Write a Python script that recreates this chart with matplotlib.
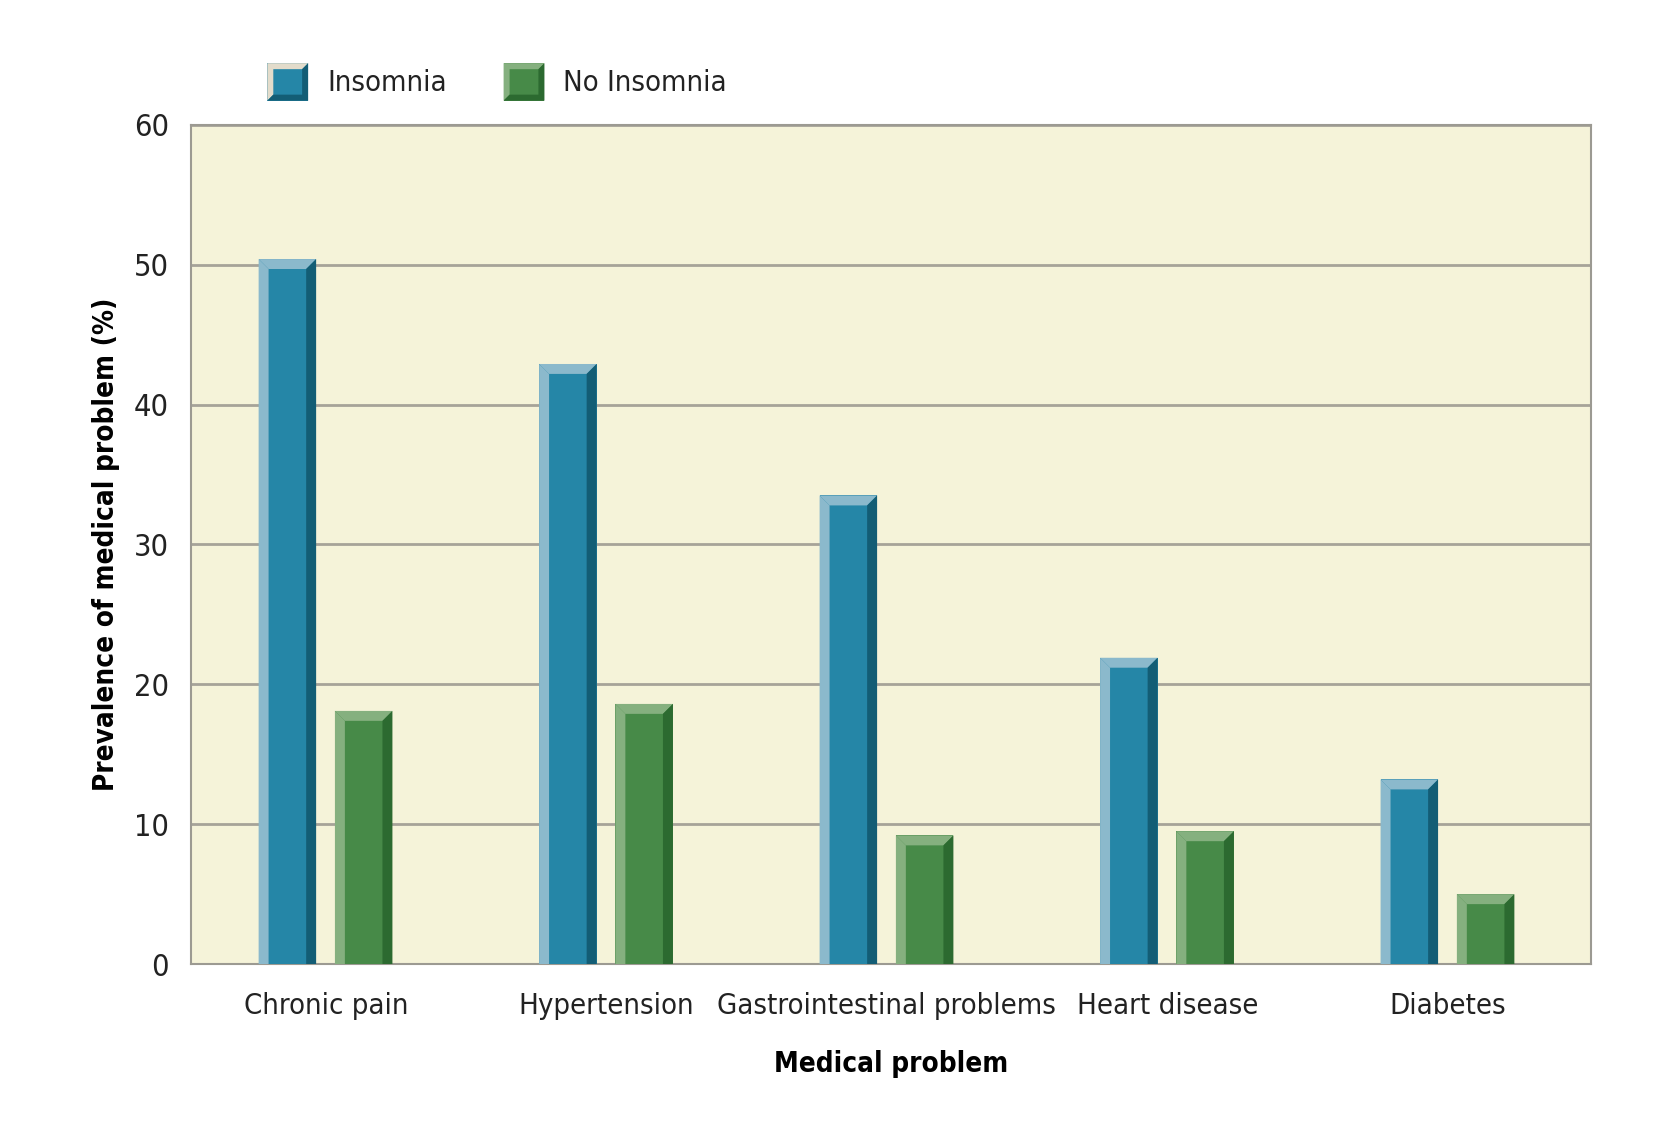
import numpy as np
import matplotlib
matplotlib.use("Agg")
import matplotlib.pyplot as plt
from matplotlib.patches import Polygon
from matplotlib.legend_handler import HandlerBase
from matplotlib import font_manager

# data
categories = ['Chronic pain', 'Hypertension', 'Gastrointestinal problems',
              'Heart disease', 'Diabetes']
insomnia = [50.4, 42.9, 33.5, 21.9, 13.2]
no_insomnia = [18.1, 18.6, 9.2, 9.5, 5.0]
yticks = [0, 10, 20, 30, 40, 50, 60]

# pick a narrow font if one is installed
fonts = font_manager.fontManager.ttflist
names = {f.name for f in fonts}
if 'Liberation Sans Narrow' in names:
    plt.rcParams['font.family'] = ['Liberation Sans Narrow', 'DejaVu Sans']
elif any(f.name == 'DejaVu Sans' and f.stretch == 'condensed' for f in fonts):
    plt.rcParams['font.family'] = ['DejaVu Sans']
    plt.rcParams['font.stretch'] = 'condensed'
else:
    plt.rcParams['font.family'] = ['Open Sans', 'DejaVu Sans']

blue = ('#2586a7', '#8bb9cc', '#135d75')
green = ('#478a48', '#85b07f', '#2c6a30')

fig = plt.figure(figsize=(16.74, 11.22), dpi=100)
ax = fig.add_axes([0.1142, 0.1407, 0.8361, 0.7481])
ax.set_facecolor('#f5f3d9')
ax.set_xlim(-0.48, 4.51)
ax.set_ylim(0, 60)

# bevel size in data units (~10 px)
dx, dy = 0.0355, 0.71


def bevel_bar(x, w, h, cols):
    face, light, dark = cols
    ax.bar(x, h, w, color=face, align='edge', zorder=3, linewidth=0)
    ax.add_patch(Polygon([(x, 0), (x, h), (x + dx, h - dy), (x + dx, 0)],
                         closed=True, color=light, lw=0, zorder=4))
    ax.add_patch(Polygon([(x, h), (x + w, h), (x + w - dx, h - dy), (x + dx, h - dy)],
                         closed=True, color=light, lw=0, zorder=4))
    ax.add_patch(Polygon([(x + w, 0), (x + w, h), (x + w - dx, h - dy), (x + w - dx, 0)],
                         closed=True, color=dark, lw=0, zorder=4))


pos = np.arange(len(categories))
w = 0.205
for i in pos:
    bevel_bar(i - 0.137 - w / 2, w, insomnia[i], blue)
    bevel_bar(i + 0.135 - w / 2, w, no_insomnia[i], green)

ax.set_yticks(yticks)
ax.set_yticklabels([str(t) for t in yticks], fontsize=22)
ax.set_xticks(pos)
ax.set_xticklabels(categories, fontsize=21)
ax.tick_params(axis='both', length=0, colors='#222222')
ax.tick_params(axis='y', pad=16)
ax.tick_params(axis='x', pad=20)
ax.grid(axis='y', color='#a6a398', lw=2, zorder=1)
for s in ax.spines.values():
    s.set_color('#9c9a92')
    s.set_linewidth(1.5)

ax.set_xlabel('Medical problem', fontsize=20, fontweight='bold', labelpad=22)
ax.set_ylabel('Prevalence of medical problem (%)', fontsize=20,
              fontweight='bold', labelpad=10)


class BevelHandler(HandlerBase):
    def __init__(self, face, light, dark):
        super().__init__()
        self.cols = (face, light, dark)

    def create_artists(self, legend, orig_handle, xdescent, ydescent,
                       width, height, fontsize, trans):
        face, light, dark = self.cols
        x0, y0 = -xdescent, -ydescent
        x1, y1 = x0 + width, y0 + height
        b = 0.16 * height
        arts = [
            Polygon([(x0, y0), (x0, y1), (x1, y1), (x1, y0)], color=face, lw=0),
            Polygon([(x0, y0), (x0, y1), (x1, y1), (x1 - b, y1 - b), (x0 + b, y1 - b), (x0 + b, y0 + b)],
                    color=light, lw=0),
            Polygon([(x0, y0), (x1, y0), (x1, y1), (x1 - b, y1 - b), (x1 - b, y0 + b), (x0 + b, y0 + b)],
                    color=dark, lw=0),
        ]
        for a in arts:
            a.set_transform(trans)
        return arts


h1 = Polygon([(0, 0)], label='Insomnia')
h2 = Polygon([(0, 0)], label='No Insomnia')
fig.legend([h1, h2], ['Insomnia', 'No Insomnia'],
           handler_map={h1: BevelHandler('#2586a7', '#e3dccb', '#135d75'),
                        h2: BevelHandler('#478a48', '#85b07f', '#2c6a30')},
           loc='center left', bbox_to_anchor=(0.144, 0.927), ncol=2,
           frameon=False, fontsize=21, handlelength=1.4, handleheight=1.6,
           handletextpad=0.65, columnspacing=1.95, labelcolor='#222222')

fig.savefig('out.png', dpi=100)
